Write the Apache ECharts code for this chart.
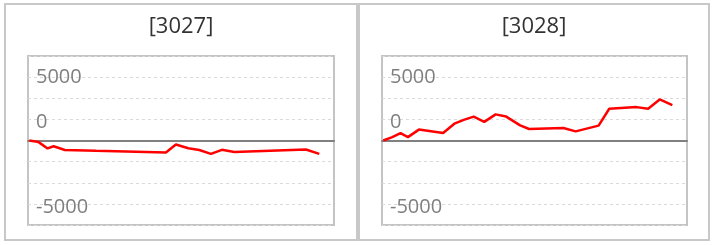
<!DOCTYPE html>
<html>
<head>
<meta charset="utf-8">
<script src="https://cdn.jsdelivr.net/npm/echarts@6/dist/echarts.min.js"></script>
<style>
html,body{margin:0;padding:0;background:#fff;}
#chart{width:712px;height:245px;}
</style>
</head>
<body>
<div id="chart"></div>
<script>
// ---- data ----
const panelTitles = ['[3027]', '[3028]'];
const t3027 = [0, 9.3, 18.3, 24.3, 35.6, 66.6, 136.6, 146.6, 159, 170, 181.6, 192.6, 205, 276.6, 290];
const v3027 = [0, -190, -940, -680, -1130, -1220, -1410, -470, -920, -1120, -1590, -1100, -1370, -1070, -1590];
const t3028 = [0, 9, 17.3, 24.7, 35.7, 60, 71.3, 80.7, 90.7, 101.3, 112.7, 123.3, 137.3, 146.3, 180.7, 193, 216, 226.7, 254, 265.7, 277.3, 290];
const v3028 = [0, 400, 870, 400, 1290, 890, 1990, 2440, 2830, 2200, 3090, 2830, 1790, 1360, 1470, 1080, 1760, 3760, 3950, 3760, 4860, 4190];
const xMin = -1.3, xMax = 304.7;
const yMin = -10000, yMax = 10000, yInterval = 2500;
// tick labels as shown in the reference (value at which each label sits -> text)
const yTickValues = [7500, 2500, -7500];
const yTickTexts = ['5000', '0', '-5000'];

const FONT = '"Open Sans", "Liberation Sans", sans-serif';
const chart = echarts.init(document.getElementById('chart'), null, {renderer: 'canvas'});

const panels = [
  {x: 5, w: 352, cx: 181, gridLeft: 28, gridW: 306},
  {x: 359, w: 350, cx: 534, gridLeft: 382, gridW: 305}
];

const graphic = [];
panels.forEach((p, i) => {
  graphic.push({type: 'rect', shape: {x: p.x, y: 4, width: p.w, height: 236},
    style: {fill: null, stroke: '#c8c8c8', lineWidth: 2}, z: 0});
  graphic.push({type: 'text', x: p.cx, y: 27,
    style: {text: panelTitles[i], align: 'center', verticalAlign: 'middle',
      font: '22px ' + FONT, fill: '#333'}});
});

const labelFmt = v => {
  const k = yTickValues.indexOf(v);
  if (k < 0) return '';
  return (k === 0 ? '{a|' : '{b|') + yTickTexts[k] + '}';
};
const labStyle = {color: '#7f7f7f', fontSize: 20, fontFamily: FONT};

const option = {
  animation: false,
  backgroundColor: '#fff',
  graphic: graphic,
  grid: panels.map(p => ({left: p.gridLeft, top: 56, width: p.gridW, height: 169,
    show: true, borderColor: '#c4c4c4', borderWidth: 2, backgroundColor: 'transparent'})),
  xAxis: panels.map((p, i) => ({type: 'value', gridIndex: i, min: xMin, max: xMax,
    axisLine: {onZero: true, lineStyle: {color: '#808080', width: 2}},
    axisTick: {show: false}, axisLabel: {show: false}, splitLine: {show: false}})),
  yAxis: panels.map((p, i) => ({type: 'value', gridIndex: i, min: yMin, max: yMax, interval: yInterval,
    axisLine: {show: false}, axisTick: {show: false},
    splitLine: {show: true, lineStyle: {type: [3, 3], color: '#dadada', width: 1}},
    axisLabel: {inside: true, margin: 8, formatter: labelFmt, color: '#7f7f7f',
      fontSize: 20, fontFamily: FONT, verticalAlign: 'middle',
      rich: {a: Object.assign({padding: [0, 0, 0, 0]}, labStyle),
             b: Object.assign({padding: [6, 0, 0, 0]}, labStyle)}}})),
  series: [
    {type: 'line', xAxisIndex: 0, yAxisIndex: 0, data: t3027.map((t, k) => [t, v3027[k]]),
      showSymbol: false, lineStyle: {color: '#ff0000', width: 2.5}, itemStyle: {color: '#ff0000'}},
    {type: 'line', xAxisIndex: 1, yAxisIndex: 1, data: t3028.map((t, k) => [t, v3028[k]]),
      showSymbol: false, lineStyle: {color: '#ff0000', width: 2.5}, itemStyle: {color: '#ff0000'}}
  ]
};
chart.setOption(option);
</script>
</body>
</html>
